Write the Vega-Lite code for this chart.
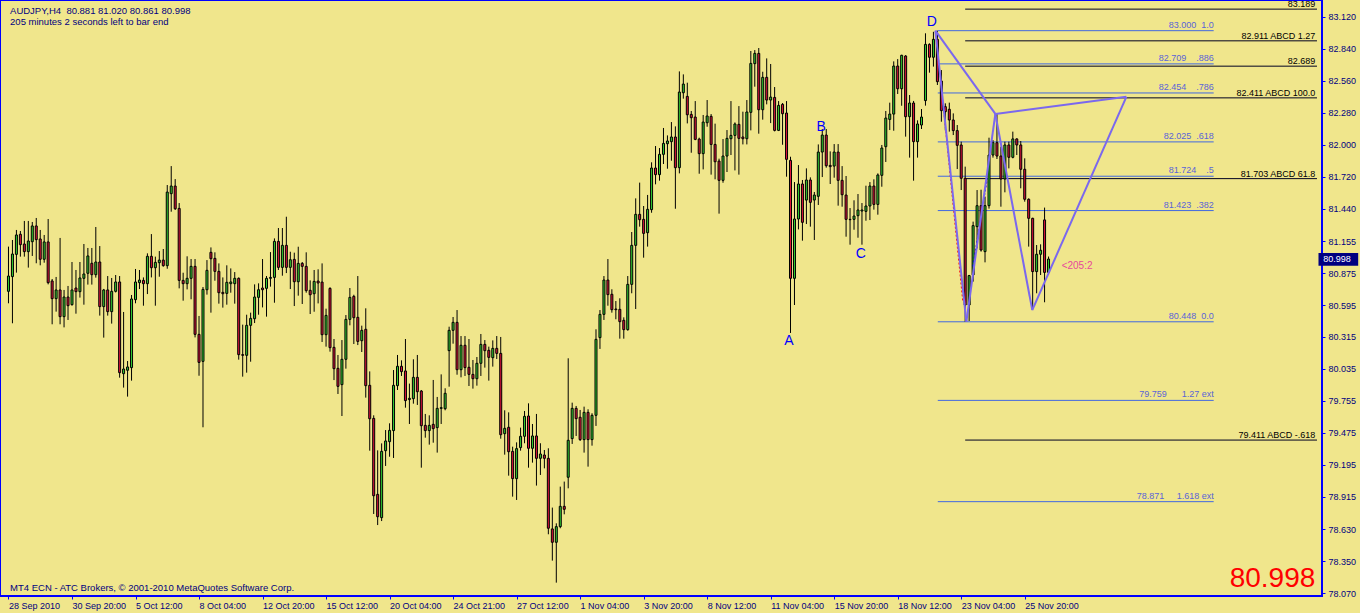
{
"$schema":"https://vega.github.io/schema/vega-lite/v6.json",
"width":1322,"height":596,
"autosize":{"type":"none"},
"padding":{"left":0,"top":0,"right":38,"bottom":17},
"background":"#F0E68C",
"resolve":{"axis":{"x":"independent","y":"independent"}},
"config":{"view":{"stroke":"#0000ff","strokeWidth":2,"fill":"#F0E68C"},"text":{"font":"Liberation Sans"},"axis":{"labelFont":"Liberation Sans","grid":false,"labelOverlap":false,"labelBound":false,"labelFlush":false}},
"datasets":{
"candles":[
{"i":0,"o":80.715,"h":81.107,"l":80.61,"c":80.849},
{"i":1,"o":80.844,"h":81.165,"l":80.435,"c":81.042},
{"i":2,"o":81.039,"h":81.253,"l":80.879,"c":81.209},
{"i":3,"o":81.215,"h":81.244,"l":81.019,"c":81.124},
{"i":4,"o":81.13,"h":81.332,"l":81.019,"c":81.063},
{"i":5,"o":81.063,"h":81.332,"l":80.923,"c":81.156},
{"i":6,"o":81.15,"h":81.323,"l":81.025,"c":81.288},
{"i":7,"o":81.288,"h":81.358,"l":80.961,"c":81.168},
{"i":8,"o":81.174,"h":81.253,"l":80.943,"c":80.996},
{"i":9,"o":80.996,"h":81.209,"l":80.966,"c":81.148},
{"i":10,"o":81.148,"h":81.349,"l":80.776,"c":80.791},
{"i":11,"o":80.806,"h":80.823,"l":80.426,"c":80.651},
{"i":12,"o":80.651,"h":80.841,"l":80.537,"c":80.727},
{"i":13,"o":80.727,"h":81.183,"l":80.426,"c":80.493},
{"i":14,"o":80.493,"h":80.727,"l":80.399,"c":80.665},
{"i":15,"o":80.665,"h":80.762,"l":80.464,"c":80.589},
{"i":16,"o":80.598,"h":80.972,"l":80.59,"c":80.727},
{"i":17,"o":80.744,"h":80.902,"l":80.519,"c":80.712},
{"i":18,"o":80.712,"h":80.972,"l":80.66,"c":80.832},
{"i":19,"o":80.829,"h":81.13,"l":80.598,"c":80.867},
{"i":20,"o":80.873,"h":81.095,"l":80.774,"c":81.025},
{"i":21,"o":80.961,"h":81.095,"l":80.774,"c":80.861},
{"i":22,"o":80.861,"h":81.279,"l":80.835,"c":80.972},
{"i":23,"o":80.972,"h":81.112,"l":80.502,"c":80.581},
{"i":24,"o":80.581,"h":80.736,"l":80.309,"c":80.727},
{"i":25,"o":80.727,"h":80.849,"l":80.502,"c":80.537},
{"i":26,"o":80.537,"h":80.832,"l":80.432,"c":80.715},
{"i":27,"o":80.715,"h":80.858,"l":80.705,"c":80.797},
{"i":28,"o":80.797,"h":80.849,"l":79.958,"c":80.002},
{"i":29,"o":79.993,"h":80.534,"l":79.871,"c":80.034},
{"i":30,"o":80.023,"h":80.104,"l":79.792,"c":80.052},
{"i":31,"o":80.046,"h":80.683,"l":79.932,"c":80.648},
{"i":32,"o":80.642,"h":80.911,"l":80.61,"c":80.797},
{"i":33,"o":80.791,"h":80.902,"l":80.735,"c":80.814},
{"i":34,"o":80.811,"h":80.837,"l":80.589,"c":80.782},
{"i":35,"o":80.782,"h":81.048,"l":80.691,"c":81.022},
{"i":36,"o":81.022,"h":81.217,"l":80.837,"c":80.922},
{"i":37,"o":80.922,"h":81.019,"l":80.589,"c":80.969},
{"i":38,"o":80.966,"h":81.068,"l":80.843,"c":80.989},
{"i":39,"o":80.989,"h":81.086,"l":80.931,"c":80.94},
{"i":40,"o":80.94,"h":81.647,"l":80.913,"c":81.585},
{"i":41,"o":81.571,"h":81.813,"l":81.413,"c":81.638},
{"i":42,"o":81.638,"h":81.699,"l":81.428,"c":81.439},
{"i":43,"o":81.442,"h":81.489,"l":80.741,"c":80.811},
{"i":44,"o":80.811,"h":80.878,"l":80.633,"c":80.782},
{"i":45,"o":80.782,"h":81.022,"l":80.732,"c":80.829},
{"i":46,"o":80.829,"h":80.998,"l":80.645,"c":80.934},
{"i":47,"o":80.934,"h":80.998,"l":80.311,"c":80.338},
{"i":48,"o":80.338,"h":80.499,"l":79.975,"c":80.092},
{"i":49,"o":80.101,"h":80.753,"l":79.523,"c":80.732},
{"i":50,"o":80.729,"h":80.989,"l":80.686,"c":80.899},
{"i":51,"o":81.057,"h":81.1,"l":80.528,"c":81.001},
{"i":52,"o":81.004,"h":81.057,"l":80.808,"c":80.89},
{"i":53,"o":80.89,"h":80.96,"l":80.607,"c":80.703},
{"i":54,"o":80.706,"h":80.837,"l":80.572,"c":80.694},
{"i":55,"o":80.697,"h":80.943,"l":80.598,"c":80.794},
{"i":56,"o":80.782,"h":80.916,"l":80.703,"c":80.797},
{"i":57,"o":80.782,"h":80.884,"l":80.607,"c":80.829},
{"i":58,"o":80.829,"h":80.837,"l":80.116,"c":80.16},
{"i":59,"o":80.16,"h":80.423,"l":79.967,"c":80.154},
{"i":60,"o":80.154,"h":80.51,"l":80.002,"c":80.417},
{"i":61,"o":80.417,"h":80.528,"l":80.098,"c":80.478},
{"i":62,"o":80.475,"h":80.776,"l":80.437,"c":80.665},
{"i":63,"o":80.662,"h":80.785,"l":80.51,"c":80.729},
{"i":64,"o":80.744,"h":80.998,"l":80.574,"c":80.729},
{"i":65,"o":80.741,"h":80.849,"l":80.493,"c":80.829},
{"i":66,"o":80.829,"h":81.059,"l":80.756,"c":80.837},
{"i":67,"o":80.837,"h":81.179,"l":80.615,"c":81.153},
{"i":68,"o":81.153,"h":81.27,"l":80.902,"c":80.925},
{"i":69,"o":80.925,"h":81.27,"l":80.852,"c":81.118},
{"i":70,"o":81.118,"h":81.369,"l":80.875,"c":80.925},
{"i":71,"o":80.925,"h":81.062,"l":80.735,"c":80.992},
{"i":72,"o":80.995,"h":81.054,"l":80.586,"c":80.799},
{"i":73,"o":80.799,"h":81.106,"l":80.677,"c":80.96},
{"i":74,"o":80.96,"h":80.972,"l":80.604,"c":80.934},
{"i":75,"o":80.934,"h":81.057,"l":80.703,"c":80.721},
{"i":76,"o":80.724,"h":80.811,"l":80.516,"c":80.685},
{"i":77,"o":80.694,"h":80.902,"l":80.536,"c":80.802},
{"i":78,"o":80.805,"h":80.908,"l":80.609,"c":80.788},
{"i":79,"o":80.796,"h":80.96,"l":80.271,"c":80.335},
{"i":80,"o":80.335,"h":80.563,"l":80.23,"c":80.504},
{"i":81,"o":80.741,"h":80.75,"l":80.186,"c":80.221},
{"i":82,"o":80.224,"h":80.297,"l":79.937,"c":80.037},
{"i":83,"o":80.04,"h":80.157,"l":79.815,"c":79.882},
{"i":84,"o":79.897,"h":80.288,"l":79.622,"c":80.119},
{"i":85,"o":80.119,"h":80.507,"l":80.037,"c":80.469},
{"i":86,"o":80.469,"h":80.744,"l":80.417,"c":80.662},
{"i":87,"o":80.671,"h":80.685,"l":80.253,"c":80.484},
{"i":88,"o":80.487,"h":80.849,"l":80.244,"c":80.276},
{"i":89,"o":80.282,"h":80.414,"l":80.183,"c":80.373},
{"i":90,"o":80.382,"h":80.566,"l":79.783,"c":79.888},
{"i":91,"o":79.891,"h":80.013,"l":79.318,"c":79.598},
{"i":92,"o":79.601,"h":79.628,"l":78.763,"c":78.923},
{"i":93,"o":78.935,"h":79.321,"l":78.666,"c":78.739},
{"i":94,"o":78.731,"h":79.382,"l":78.701,"c":79.312},
{"i":95,"o":79.318,"h":79.499,"l":79.184,"c":79.403},
{"i":96,"o":79.397,"h":79.558,"l":79.265,"c":79.496},
{"i":97,"o":79.494,"h":80.025,"l":79.254,"c":79.891},
{"i":98,"o":79.888,"h":80.157,"l":79.85,"c":80.058},
{"i":99,"o":80.058,"h":80.11,"l":79.973,"c":80.011},
{"i":100,"o":80.017,"h":80.297,"l":79.695,"c":79.757},
{"i":101,"o":79.766,"h":79.906,"l":79.552,"c":79.777},
{"i":102,"o":79.774,"h":80.119,"l":79.73,"c":79.961},
{"i":103,"o":79.961,"h":80.157,"l":79.719,"c":79.835},
{"i":104,"o":79.841,"h":79.85,"l":79.169,"c":79.537},
{"i":105,"o":79.54,"h":79.64,"l":79.432,"c":79.494},
{"i":106,"o":79.494,"h":79.628,"l":79.371,"c":79.54},
{"i":107,"o":79.549,"h":79.938,"l":79.388,"c":79.511},
{"i":108,"o":79.52,"h":79.789,"l":79.301,"c":79.689},
{"i":109,"o":79.689,"h":79.987,"l":79.552,"c":79.695},
{"i":110,"o":79.686,"h":79.865,"l":79.672,"c":79.821},
{"i":111,"o":80.195,"h":80.405,"l":79.879,"c":80.373},
{"i":112,"o":80.373,"h":80.49,"l":80.256,"c":80.443},
{"i":113,"o":80.443,"h":80.551,"l":79.984,"c":80.028},
{"i":114,"o":80.028,"h":80.323,"l":79.961,"c":80.242},
{"i":115,"o":80.242,"h":80.323,"l":79.973,"c":80.046},
{"i":116,"o":80.049,"h":80.297,"l":79.885,"c":79.987},
{"i":117,"o":79.987,"h":80.113,"l":79.862,"c":79.949},
{"i":118,"o":79.949,"h":80.139,"l":79.888,"c":80.084},
{"i":119,"o":80.084,"h":80.341,"l":79.973,"c":80.25},
{"i":120,"o":80.25,"h":80.288,"l":80.046,"c":80.195},
{"i":121,"o":80.198,"h":80.23,"l":79.932,"c":80.136},
{"i":122,"o":80.133,"h":80.285,"l":80.055,"c":80.215},
{"i":123,"o":80.215,"h":80.323,"l":80.122,"c":80.171},
{"i":124,"o":80.171,"h":80.315,"l":79.423,"c":79.458},
{"i":125,"o":79.467,"h":79.672,"l":79.283,"c":79.514},
{"i":126,"o":79.523,"h":79.654,"l":79.099,"c":79.309},
{"i":127,"o":79.312,"h":79.353,"l":78.915,"c":79.073},
{"i":128,"o":79.073,"h":79.391,"l":78.886,"c":79.336},
{"i":129,"o":79.345,"h":79.52,"l":79.318,"c":79.444},
{"i":130,"o":79.444,"h":79.666,"l":79.383,"c":79.619},
{"i":131,"o":79.622,"h":79.733,"l":79.169,"c":79.339},
{"i":132,"o":79.339,"h":79.552,"l":79.213,"c":79.447},
{"i":133,"o":79.447,"h":79.64,"l":79.012,"c":79.251},
{"i":134,"o":79.251,"h":79.383,"l":79.105,"c":79.289},
{"i":135,"o":79.28,"h":79.324,"l":79.163,"c":79.251},
{"i":136,"o":79.251,"h":79.339,"l":78.585,"c":78.638},
{"i":137,"o":78.632,"h":78.819,"l":78.354,"c":78.515},
{"i":138,"o":78.515,"h":78.681,"l":78.161,"c":78.652},
{"i":139,"o":78.652,"h":79.003,"l":78.638,"c":78.83},
{"i":140,"o":78.83,"h":79.047,"l":78.76,"c":78.804},
{"i":141,"o":79.085,"h":80.128,"l":78.988,"c":79.409},
{"i":142,"o":79.424,"h":79.739,"l":79.377,"c":79.689},
{"i":143,"o":79.689,"h":79.71,"l":79.447,"c":79.599},
{"i":144,"o":79.611,"h":79.675,"l":79.403,"c":79.415},
{"i":145,"o":79.415,"h":79.704,"l":79.301,"c":79.654},
{"i":146,"o":79.654,"h":79.681,"l":79.178,"c":79.415},
{"i":147,"o":79.415,"h":79.646,"l":79.362,"c":79.628},
{"i":148,"o":79.628,"h":80.382,"l":79.535,"c":80.294},
{"i":149,"o":80.309,"h":80.551,"l":80.21,"c":80.513},
{"i":150,"o":80.513,"h":80.849,"l":80.464,"c":80.814},
{"i":151,"o":80.814,"h":80.998,"l":80.589,"c":80.686},
{"i":152,"o":80.689,"h":80.733,"l":80.528,"c":80.554},
{"i":153,"o":80.56,"h":80.63,"l":80.47,"c":80.554},
{"i":154,"o":80.557,"h":80.654,"l":80.3,"c":80.449},
{"i":155,"o":80.461,"h":80.487,"l":80.3,"c":80.379},
{"i":156,"o":80.379,"h":80.849,"l":80.37,"c":80.776},
{"i":157,"o":80.776,"h":81.235,"l":80.698,"c":81.118},
{"i":158,"o":81.118,"h":81.53,"l":80.56,"c":81.39},
{"i":159,"o":81.39,"h":81.668,"l":81.282,"c":81.343},
{"i":160,"o":81.346,"h":81.463,"l":81.01,"c":81.223},
{"i":161,"o":81.229,"h":81.56,"l":81.107,"c":81.434},
{"i":162,"o":81.431,"h":81.846,"l":81.404,"c":81.796},
{"i":163,"o":81.796,"h":81.989,"l":81.653,"c":81.738},
{"i":164,"o":81.738,"h":81.971,"l":81.685,"c":81.916},
{"i":165,"o":81.916,"h":82.147,"l":81.831,"c":82.012},
{"i":166,"o":82.009,"h":82.082,"l":81.79,"c":82.033},
{"i":167,"o":82.027,"h":82.199,"l":81.86,"c":82.068},
{"i":168,"o":82.068,"h":82.161,"l":81.439,"c":81.799},
{"i":169,"o":81.799,"h":82.643,"l":81.749,"c":82.462},
{"i":170,"o":82.456,"h":82.617,"l":82.404,"c":82.532},
{"i":171,"o":82.424,"h":82.544,"l":82.187,"c":82.263},
{"i":172,"o":82.266,"h":82.296,"l":81.93,"c":82.237},
{"i":173,"o":82.243,"h":82.383,"l":82.04,"c":82.047},
{"i":174,"o":82.05,"h":82.062,"l":81.746,"c":81.922},
{"i":175,"o":81.922,"h":82.261,"l":81.784,"c":82.199},
{"i":176,"o":82.193,"h":82.392,"l":82.158,"c":82.252},
{"i":177,"o":82.249,"h":82.269,"l":81.738,"c":82.003},
{"i":178,"o":82.003,"h":82.185,"l":81.697,"c":81.851},
{"i":179,"o":81.857,"h":81.878,"l":81.396,"c":81.688},
{"i":180,"o":81.688,"h":82.05,"l":81.667,"c":81.901},
{"i":181,"o":81.901,"h":82.129,"l":81.761,"c":82.056},
{"i":182,"o":82.053,"h":82.383,"l":81.91,"c":82.082},
{"i":183,"o":82.082,"h":82.196,"l":81.775,"c":82.182},
{"i":184,"o":82.179,"h":82.339,"l":81.738,"c":82.056},
{"i":185,"o":82.068,"h":82.29,"l":82.003,"c":82.053},
{"i":186,"o":82.053,"h":82.392,"l":82.003,"c":82.287},
{"i":187,"o":82.284,"h":82.822,"l":82.126,"c":82.713},
{"i":188,"o":82.711,"h":82.83,"l":82.509,"c":82.801},
{"i":189,"o":82.801,"h":82.848,"l":82.097,"c":82.307},
{"i":190,"o":82.307,"h":82.64,"l":82.22,"c":82.591},
{"i":191,"o":82.591,"h":82.757,"l":82.354,"c":82.392},
{"i":192,"o":82.392,"h":82.708,"l":82.19,"c":82.418},
{"i":193,"o":82.415,"h":82.506,"l":82.117,"c":82.126},
{"i":194,"o":82.126,"h":82.383,"l":82.12,"c":82.345},
{"i":195,"o":82.354,"h":82.366,"l":82.0,"c":82.272},
{"i":196,"o":82.278,"h":82.383,"l":81.72,"c":81.872},
{"i":197,"o":81.863,"h":81.895,"l":80.35,"c":80.829},
{"i":198,"o":80.829,"h":81.673,"l":80.595,"c":81.349},
{"i":199,"o":81.349,"h":81.822,"l":81.258,"c":81.656},
{"i":200,"o":81.656,"h":81.691,"l":81.159,"c":81.32},
{"i":201,"o":81.515,"h":81.793,"l":81.305,"c":81.691},
{"i":202,"o":81.691,"h":81.714,"l":81.282,"c":81.495},
{"i":203,"o":81.515,"h":81.586,"l":81.165,"c":81.559},
{"i":204,"o":81.548,"h":82.003,"l":81.472,"c":81.936},
{"i":205,"o":81.936,"h":82.138,"l":81.717,"c":82.085},
{"i":206,"o":82.085,"h":82.138,"l":81.799,"c":81.816},
{"i":207,"o":81.819,"h":81.942,"l":81.656,"c":81.808},
{"i":208,"o":81.813,"h":82.006,"l":81.711,"c":81.936},
{"i":209,"o":81.936,"h":82.006,"l":81.466,"c":81.688},
{"i":210,"o":81.688,"h":81.813,"l":81.457,"c":81.562},
{"i":211,"o":81.559,"h":81.726,"l":81.194,"c":81.346},
{"i":212,"o":81.346,"h":81.445,"l":81.124,"c":81.343},
{"i":213,"o":81.346,"h":81.513,"l":81.255,"c":81.375},
{"i":214,"o":81.378,"h":81.568,"l":81.185,"c":81.428},
{"i":215,"o":81.419,"h":81.489,"l":81.124,"c":81.428},
{"i":216,"o":81.416,"h":81.641,"l":81.334,"c":81.463},
{"i":217,"o":81.463,"h":81.673,"l":81.34,"c":81.638},
{"i":218,"o":81.638,"h":81.697,"l":81.431,"c":81.477},
{"i":219,"o":81.477,"h":81.749,"l":81.387,"c":81.735},
{"i":220,"o":81.732,"h":81.998,"l":81.632,"c":81.971},
{"i":221,"o":81.983,"h":82.296,"l":81.849,"c":82.234},
{"i":222,"o":82.222,"h":82.369,"l":82.129,"c":82.269},
{"i":223,"o":82.269,"h":82.731,"l":82.123,"c":82.69},
{"i":224,"o":82.69,"h":82.751,"l":82.445,"c":82.491},
{"i":225,"o":82.491,"h":82.789,"l":82.342,"c":82.784},
{"i":226,"o":82.778,"h":82.786,"l":82.071,"c":82.246},
{"i":227,"o":82.246,"h":82.436,"l":81.887,"c":82.366},
{"i":228,"o":82.366,"h":82.384,"l":81.685,"c":82.027},
{"i":229,"o":82.027,"h":82.214,"l":81.887,"c":82.182},
{"i":230,"o":82.173,"h":82.313,"l":82.138,"c":82.243},
{"i":231,"o":82.387,"h":82.977,"l":82.343,"c":82.88},
{"i":232,"o":82.88,"h":82.889,"l":82.632,"c":82.767},
{"i":233,"o":82.767,"h":82.99,"l":82.685,"c":82.924},
{"i":234,"o":82.924,"h":83.0,"l":82.524,"c":82.553},
{"i":235,"o":82.559,"h":82.655,"l":82.202,"c":82.299},
{"i":236,"o":82.334,"h":82.363,"l":82.126,"c":82.29},
{"i":237,"o":82.311,"h":82.369,"l":82.115,"c":82.217},
{"i":238,"o":82.217,"h":82.275,"l":82.085,"c":82.124},
{"i":239,"o":82.124,"h":82.173,"l":81.787,"c":81.995},
{"i":240,"o":81.998,"h":82.027,"l":81.603,"c":81.706},
{"i":241,"o":81.706,"h":81.808,"l":80.448,"c":80.595},
{"i":242,"o":80.595,"h":80.859,"l":80.455,"c":80.853},
{"i":243,"o":80.859,"h":81.326,"l":80.8,"c":81.291},
{"i":244,"o":81.282,"h":81.603,"l":81.092,"c":81.466},
{"i":245,"o":81.466,"h":81.606,"l":81.063,"c":81.077},
{"i":246,"o":81.063,"h":81.545,"l":80.969,"c":81.466},
{"i":247,"o":81.466,"h":82.062,"l":81.44,"c":81.91},
{"i":248,"o":81.91,"h":82.041,"l":81.887,"c":82.018},
{"i":249,"o":82.018,"h":82.275,"l":81.875,"c":81.901},
{"i":250,"o":81.901,"h":81.983,"l":81.457,"c":81.7},
{"i":251,"o":81.7,"h":82.027,"l":81.583,"c":81.998},
{"i":252,"o":81.998,"h":82.027,"l":81.793,"c":81.89},
{"i":253,"o":81.89,"h":82.115,"l":81.881,"c":82.051},
{"i":254,"o":82.051,"h":82.056,"l":81.91,"c":81.998},
{"i":255,"o":81.998,"h":82.033,"l":81.618,"c":81.785},
{"i":256,"o":81.785,"h":81.881,"l":81.501,"c":81.522},
{"i":257,"o":81.522,"h":81.53,"l":81.107,"c":81.355},
{"i":258,"o":81.355,"h":81.36,"l":80.56,"c":80.888},
{"i":259,"o":80.888,"h":81.121,"l":80.698,"c":81.04},
{"i":260,"o":81.04,"h":81.127,"l":80.858,"c":81.075},
{"i":261,"o":81.341,"h":81.449,"l":80.619,"c":80.881},
{"i":262,"o":80.881,"h":81.02,"l":80.861,"c":80.998}
],
"fib":[
{"lvl":83.0,"label":"83.000\u00a0\u00a01.0"},
{"lvl":82.709,"label":"82.709\u00a0\u00a0\u00a0\u00a0.886"},
{"lvl":82.454,"label":"82.454\u00a0\u00a0\u00a0\u00a0.786"},
{"lvl":82.025,"label":"82.025\u00a0\u00a0.618"},
{"lvl":81.724,"label":"81.724\u00a0\u00a0\u00a0\u00a0.5"},
{"lvl":81.423,"label":"81.423\u00a0\u00a0.382"},
{"lvl":80.448,"label":"80.448\u00a0\u00a00.0"},
{"lvl":79.759,"label":"79.759\u00a0\u00a0\u00a0\u00a0\u00a0\u00a01.27 ext"},
{"lvl":78.871,"label":"78.871\u00a0\u00a0\u00a0\u00a0\u00a01.618 ext"}
],
"abcd":[
{"lvl":83.189,"label":"83.189"},
{"lvl":82.911,"label":"82.911 ABCD 1.27"},
{"lvl":82.689,"label":"82.689"},
{"lvl":82.411,"label":"82.411 ABCD 100.0"},
{"lvl":81.703,"label":"81.703 ABCD 61.8"},
{"lvl":79.411,"label":"79.411 ABCD -.618"}
],
"pattern":[
{"seg":"XA","k":0,"i":233.5,"p":83.0},{"seg":"XA","k":1,"i":241.3,"p":80.448},
{"seg":"AB","k":0,"i":241.3,"p":80.448},{"seg":"AB","k":1,"i":248.6,"p":82.27},
{"seg":"XB","k":0,"i":233.5,"p":83.0},{"seg":"XB","k":1,"i":248.6,"p":82.27},
{"seg":"BC","k":0,"i":248.6,"p":82.27},{"seg":"BC","k":1,"i":257.9,"p":80.55},
{"seg":"CD","k":0,"i":257.9,"p":80.55},{"seg":"CD","k":1,"i":281.6,"p":82.42},
{"seg":"BD","k":0,"i":248.6,"p":82.27},{"seg":"BD","k":1,"i":281.6,"p":82.42}
],
"guides":[
{"seg":"red","k":0,"i":234.1,"p":82.816},{"seg":"red","k":1,"i":240.4,"p":80.624},
{"seg":"blue","k":0,"i":242.9,"p":80.933},{"seg":"blue","k":1,"i":246.6,"p":81.706}
],
"pts":[
{"name":"A","i":196.6,"p":80.279},
{"name":"B","i":204.7,"p":82.153},
{"name":"C","i":214.7,"p":81.042},
{"name":"D","i":232.6,"p":83.076}
]
},
"layer":[
{"data":{"name":"fib"},"mark":{"type":"rule","color":"#4169E1","strokeWidth":1},
 "encoding":{"x":{"datum":234.1,"type":"quantitative","axis":null,"scale":{"domain":[-0.875,329.625],"nice":false,"zero":false}},"x2":{"datum":303.6},
 "y":{"field":"lvl","type":"quantitative","axis":null,"scale":{"domain":[78.044,83.269],"nice":false,"zero":false}}}},
{"data":{"name":"fib"},"mark":{"type":"text","align":"right","baseline":"bottom","dy":-1,"fontSize":9,"color":"#5a64d8"},
 "encoding":{"x":{"datum":303.6,"type":"quantitative","axis":null,"scale":{"domain":[-0.875,329.625],"nice":false,"zero":false}},
 "y":{"field":"lvl","type":"quantitative","axis":null,"scale":{"domain":[78.044,83.269],"nice":false,"zero":false}},"text":{"field":"label"}}},
{"data":{"name":"abcd"},"mark":{"type":"rule","color":"#000020","strokeWidth":1},
 "encoding":{"x":{"datum":241,"type":"quantitative","axis":null,"scale":{"domain":[-0.875,329.625],"nice":false,"zero":false}},"x2":{"datum":329.625},
 "y":{"field":"lvl","type":"quantitative","axis":null,"scale":{"domain":[78.044,83.269],"nice":false,"zero":false}}}},
{"data":{"name":"abcd"},"mark":{"type":"text","align":"right","baseline":"alphabetic","dy":-2,"fontSize":9,"color":"#000000"},
 "encoding":{"x":{"datum":329.2,"type":"quantitative","axis":null,"scale":{"domain":[-0.875,329.625],"nice":false,"zero":false}},
 "y":{"field":"lvl","type":"quantitative","axis":null,"scale":{"domain":[78.044,83.269],"nice":false,"zero":false}},"text":{"field":"label"}}},
{"data":{"name":"candles"},"mark":{"type":"rule","color":"#000000","strokeWidth":1},
 "encoding":{
  "x":{"field":"i","type":"quantitative","scale":{"domain":[-0.875,329.625],"nice":false,"zero":false},
   "axis":{"orient":"bottom","title":null,"grid":false,"values":[0,16,32,48,64,80,96,112,128,144,160,176,192,208,224,240,256],
    "labelExpr":"['28 Sep 2010','30 Sep 20:00','5 Oct 12:00','8 Oct 04:00','12 Oct 20:00','15 Oct 12:00','20 Oct 04:00','24 Oct 21:00','27 Oct 12:00','1 Nov 04:00','3 Nov 20:00','8 Nov 12:00','11 Nov 04:00','15 Nov 20:00','18 Nov 12:00','23 Nov 04:00','25 Nov 20:00'][round(datum.value/16)]",
    "domainColor":"#0000ff","tickColor":"#0000ff","tickSize":3,"labelColor":"#000080","labelFontSize":9,"labelAlign":"left","labelBaseline":"top","labelPadding":2,"labelOverlap":false,"labelFlush":false,"labelBound":false}},
  "y":{"field":"l","type":"quantitative","scale":{"domain":[78.044,83.269],"nice":false,"zero":false},
   "axis":{"orient":"right","title":null,"grid":false,"values":[83.12,82.84,82.56,82.28,82.0,81.72,81.44,81.155,80.875,80.595,80.315,80.035,79.755,79.475,79.195,78.915,78.63,78.35,78.07],
    "format":".3f","domainColor":"#0000ff","tickColor":"#0000ff","tickSize":3,"labelColor":"#000080","labelFontSize":9,"labelPadding":3,"labelOverlap":false,"labelFlush":false,"labelBound":false}},
  "y2":{"field":"h"}}},
{"data":{"name":"candles"},"mark":{"type":"bar","width":2,"stroke":"#000000","strokeWidth":1,"opacity":1},
 "encoding":{
  "x":{"field":"i","type":"quantitative","axis":null,"scale":{"domain":[-0.875,329.625],"nice":false,"zero":false}},
  "y":{"field":"o","type":"quantitative","axis":null,"scale":{"domain":[78.044,83.269],"nice":false,"zero":false}},
  "y2":{"field":"c"},
  "fill":{"condition":{"test":"datum.c >= datum.o","value":"#32CD32"},"value":"#DC143C"}}},
{"data":{"name":"guides"},"mark":{"type":"line","strokeWidth":1,"strokeDash":[2,2]},
 "encoding":{"x":{"field":"i","type":"quantitative","axis":null,"scale":{"domain":[-0.875,329.625],"nice":false,"zero":false}},
  "y":{"field":"p","type":"quantitative","axis":null,"scale":{"domain":[78.044,83.269],"nice":false,"zero":false}},
  "color":{"field":"seg","type":"nominal","scale":{"domain":["red","blue"],"range":["#ff0000","#0000cc"]},"legend":null},
  "order":{"field":"k"}}},
{"data":{"name":"pattern"},"mark":{"type":"line","strokeWidth":2,"color":"#7B68EE"},
 "encoding":{"x":{"field":"i","type":"quantitative","axis":null,"scale":{"domain":[-0.875,329.625],"nice":false,"zero":false}},
  "y":{"field":"p","type":"quantitative","axis":null,"scale":{"domain":[78.044,83.269],"nice":false,"zero":false}},
  "detail":{"field":"seg"},"order":{"field":"k"}}},
{"data":{"name":"pts"},"mark":{"type":"text","fontSize":14,"color":"#0000ff","align":"center","baseline":"middle"},
 "encoding":{"x":{"field":"i","type":"quantitative","axis":null,"scale":{"domain":[-0.875,329.625],"nice":false,"zero":false}},
  "y":{"field":"p","type":"quantitative","axis":null,"scale":{"domain":[78.044,83.269],"nice":false,"zero":false}},
  "text":{"field":"name"}}},
{"data":{"values":[{}]},"mark":{"type":"text","text":"<205:2","fontSize":10,"color":"#e8489b","align":"left","baseline":"middle"},
 "encoding":{"x":{"datum":265.3,"type":"quantitative","axis":null,"scale":{"domain":[-0.875,329.625],"nice":false,"zero":false}},
  "y":{"datum":80.937,"type":"quantitative","axis":null,"scale":{"domain":[78.044,83.269],"nice":false,"zero":false}}}},
{"data":{"values":[{}]},"mark":{"type":"text","text":"AUDJPY,H4\u00a0\u00a080.881 81.020 80.861 80.998","fontSize":9.5,"color":"#000080","align":"left","baseline":"alphabetic"},
 "encoding":{"x":{"datum":0.4,"type":"quantitative","axis":null,"scale":{"domain":[-0.875,329.625],"nice":false,"zero":false}},
  "y":{"datum":83.146,"type":"quantitative","axis":null,"scale":{"domain":[78.044,83.269],"nice":false,"zero":false}}}},
{"data":{"values":[{}]},"mark":{"type":"text","text":"205 minutes 2 seconds left to bar end","fontSize":9.5,"color":"#000080","align":"left","baseline":"alphabetic"},
 "encoding":{"x":{"datum":0.4,"type":"quantitative","axis":null,"scale":{"domain":[-0.875,329.625],"nice":false,"zero":false}},
  "y":{"datum":83.05,"type":"quantitative","axis":null,"scale":{"domain":[78.044,83.269],"nice":false,"zero":false}}}},
{"data":{"values":[{}]},"mark":{"type":"text","text":"MT4 ECN - ATC Brokers, © 2001-2010 MetaQuotes Software Corp.","fontSize":9.5,"color":"#000080","align":"left","baseline":"alphabetic"},
 "encoding":{"x":{"datum":0.4,"type":"quantitative","axis":null,"scale":{"domain":[-0.875,329.625],"nice":false,"zero":false}},
  "y":{"datum":78.088,"type":"quantitative","axis":null,"scale":{"domain":[78.044,83.269],"nice":false,"zero":false}}}},
{"data":{"values":[{}]},"mark":{"type":"text","text":"80.998","fontSize":28,"color":"#ff0000","align":"right","baseline":"alphabetic"},
 "encoding":{"x":{"datum":329.2,"type":"quantitative","axis":null,"scale":{"domain":[-0.875,329.625],"nice":false,"zero":false}},
  "y":{"datum":78.123,"type":"quantitative","axis":null,"scale":{"domain":[78.044,83.269],"nice":false,"zero":false}}}},
{"data":{"values":[{}]},"mark":{"type":"rect","color":"#000080"},
 "encoding":{"x":{"datum":330.0,"type":"quantitative","axis":null,"scale":{"domain":[-0.875,329.625],"nice":false,"zero":false}},"x2":{"datum":340},
  "y":{"datum":81.05,"type":"quantitative","axis":null,"scale":{"domain":[78.044,83.269],"nice":false,"zero":false}},"y2":{"datum":80.94}}},
{"data":{"values":[{}]},"mark":{"type":"text","text":"80.998","fontSize":9,"color":"#ffffff","align":"left","baseline":"middle"},
 "encoding":{"x":{"datum":331.2,"type":"quantitative","axis":null,"scale":{"domain":[-0.875,329.625],"nice":false,"zero":false}},
  "y":{"datum":80.998,"type":"quantitative","axis":null,"scale":{"domain":[78.044,83.269],"nice":false,"zero":false}}}}
]
}
